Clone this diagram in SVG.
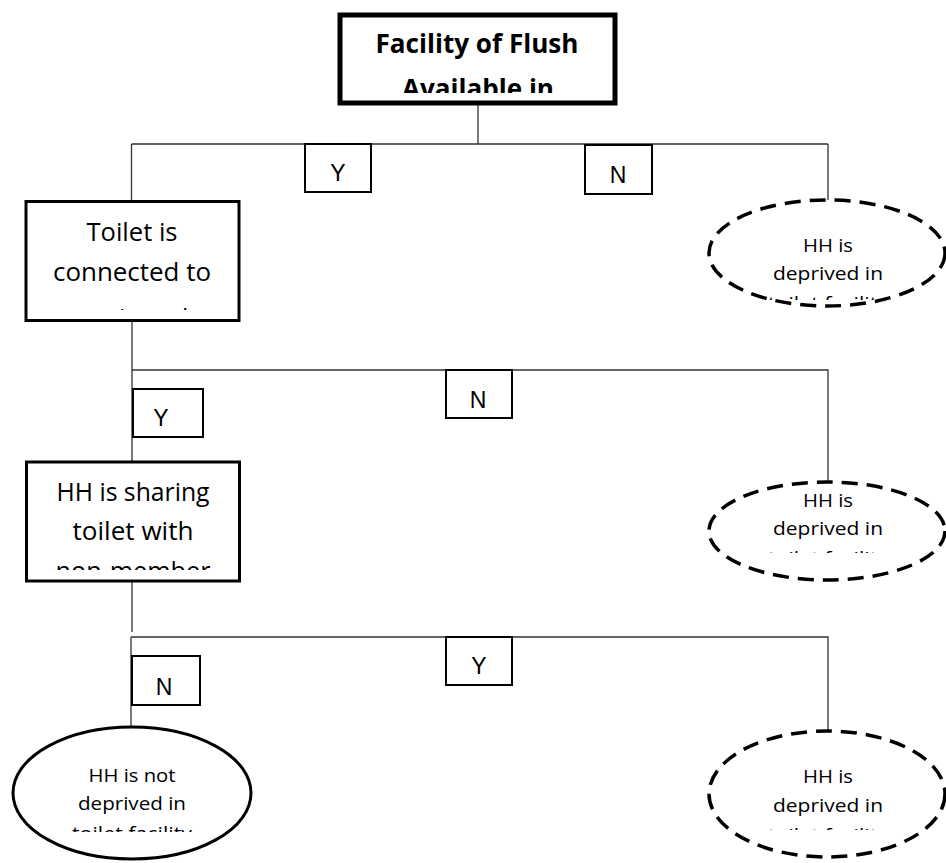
<svg xmlns="http://www.w3.org/2000/svg" width="946" height="863" viewBox="0 0 946 863">
<style>
.conn{fill:none;stroke:#333;stroke-width:1.3}
.box{fill:#fff;stroke:#000;stroke-width:3}
.lbl{fill:#fff;stroke:#000;stroke-width:2}
.lt{font-family:"Liberation Sans",Arial,sans-serif;font-size:23px;fill:#000;text-anchor:middle}
.t{font-family:"Open Sans","Liberation Sans",sans-serif;fill:#000;text-anchor:middle}
.big{font-size:25px}
.sm{font-size:18px}
.dash{fill:#fff;stroke:#000;stroke-width:3.5;stroke-dasharray:16 9}
</style>
<defs>
<clipPath id="c0"><rect x="343" y="18" width="269" height="75"/></clipPath>
<clipPath id="c1"><rect x="28" y="204" width="209" height="106"/></clipPath>
<clipPath id="c2"><rect x="28" y="465" width="209" height="105"/></clipPath>
<clipPath id="c3"><rect x="720" y="205" width="215" height="95"/></clipPath>
<clipPath id="c4"><rect x="720" y="485" width="215" height="68"/></clipPath>
<clipPath id="c5"><rect x="720" y="735" width="215" height="95"/></clipPath>
<clipPath id="c6"><rect x="20" y="730" width="225" height="102"/></clipPath>
</defs>
<g id="connectors">
<path class="conn" d="M478 103 V144 M131.5 144 H828 M131.5 144 V201 M828 144 V200"/>
<path class="conn" d="M132 320 V462 M132 370 H828 V482"/>
<path class="conn" d="M132 581 V632 M131 637 H828 V731 M131 637 V727"/>
</g>
<g id="n_flush">
<rect x="340" y="15" width="275" height="88" fill="#fff" stroke="#000" stroke-width="5"/>
<g clip-path="url(#c0)">
<text class="t" x="477" y="53" font-size="27" font-weight="bold" textLength="203" lengthAdjust="spacingAndGlyphs">Facility of Flush</text>
<text class="t" x="478" y="98" font-size="27" font-weight="bold" textLength="152" lengthAdjust="spacingAndGlyphs">Available in</text>
</g>
</g>
<g id="l_y1"><rect class="lbl" x="305" y="144" width="66" height="48"/><text class="lt" x="338" y="181">Y</text></g>
<g id="l_n1"><rect class="lbl" x="585" y="145" width="67" height="49"/><text class="lt" x="618" y="183">N</text></g>
<g id="n_toilet">
<rect class="box" x="26" y="201.5" width="213" height="119"/>
<g clip-path="url(#c1)">
<text class="t big" x="132" y="241" textLength="91" lengthAdjust="spacingAndGlyphs">Toilet is</text>
<text class="t big" x="132" y="281" textLength="158" lengthAdjust="spacingAndGlyphs">connected to</text>
<text class="t big" x="132" y="327">septic tank</text>
</g>
</g>
<g id="n_dep1">
<ellipse class="dash" cx="827" cy="253" rx="118" ry="53"/>
<g clip-path="url(#c3)">
<text class="t sm" x="828" y="252" textLength="50" lengthAdjust="spacingAndGlyphs">HH is</text>
<text class="t sm" x="828" y="280" textLength="110" lengthAdjust="spacingAndGlyphs">deprived in</text>
<text class="t sm" x="828" y="310" textLength="120" lengthAdjust="spacingAndGlyphs">toilet facility</text>
</g>
</g>
<g id="l_y2"><rect class="lbl" x="133" y="389" width="70" height="48"/><text class="lt" x="161" y="426">Y</text></g>
<g id="l_n2"><rect class="lbl" x="446" y="370" width="66" height="48"/><text class="lt" x="478" y="408">N</text></g>
<g id="n_share">
<rect class="box" x="26.5" y="462" width="213" height="119"/>
<g clip-path="url(#c2)">
<text class="t big" x="133" y="501" textLength="153" lengthAdjust="spacingAndGlyphs">HH is sharing</text>
<text class="t big" x="133" y="540" textLength="121" lengthAdjust="spacingAndGlyphs">toilet with</text>
<text class="t big" x="133" y="580" textLength="155" lengthAdjust="spacingAndGlyphs">non-member</text>
</g>
</g>
<g id="n_dep2">
<ellipse class="dash" cx="827" cy="531" rx="118" ry="49"/>
<g clip-path="url(#c4)">
<text class="t sm" x="828" y="507" textLength="50" lengthAdjust="spacingAndGlyphs">HH is</text>
<text class="t sm" x="828" y="535" textLength="110" lengthAdjust="spacingAndGlyphs">deprived in</text>
<text class="t sm" x="828" y="565" textLength="120" lengthAdjust="spacingAndGlyphs">toilet facility</text>
</g>
</g>
<g id="l_n3"><rect class="lbl" x="132" y="656" width="68" height="49"/><text class="lt" x="164" y="695">N</text></g>
<g id="l_y3"><rect class="lbl" x="446" y="637" width="66" height="48"/><text class="lt" x="479" y="674">Y</text></g>
<g id="n_notdep">
<ellipse cx="132" cy="793" rx="119" ry="66" fill="#fff" stroke="#000" stroke-width="3"/>
<g clip-path="url(#c6)">
<text class="t sm" x="132" y="782" textLength="87" lengthAdjust="spacingAndGlyphs">HH is not</text>
<text class="t sm" x="132" y="810" textLength="108" lengthAdjust="spacingAndGlyphs">deprived in</text>
<text class="t sm" x="132" y="840" textLength="120" lengthAdjust="spacingAndGlyphs">toilet facility</text>
</g>
</g>
<g id="n_dep3">
<ellipse class="dash" cx="827" cy="794" rx="118" ry="63"/>
<g clip-path="url(#c5)">
<text class="t sm" x="828" y="783" textLength="50" lengthAdjust="spacingAndGlyphs">HH is</text>
<text class="t sm" x="828" y="812" textLength="110" lengthAdjust="spacingAndGlyphs">deprived in</text>
<text class="t sm" x="828" y="842" textLength="120" lengthAdjust="spacingAndGlyphs">toilet facility</text>
</g>
</g>
</svg>
